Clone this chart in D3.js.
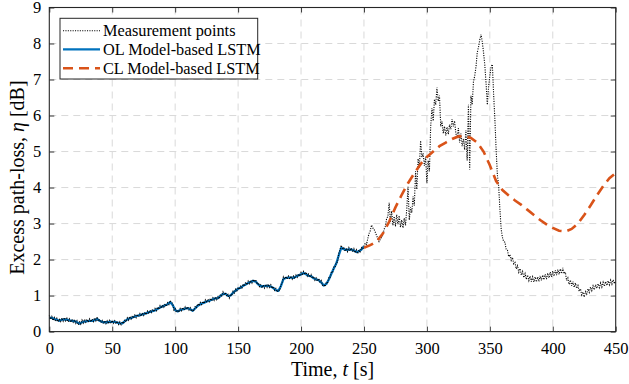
<!DOCTYPE html>
<html>
<head>
<meta charset="utf-8">
<script src="https://cdn.jsdelivr.net/npm/d3@7"></script>
<style>
  html, body { margin: 0; padding: 0; background: #fff; }
  svg { display: block; }
  text { font-family: "Liberation Serif", "DejaVu Serif", serif; fill: #000; }
</style>
</head>
<body>
<svg id="chart" width="629" height="384"></svg>
<script>
// ---- Data ----
// Measurement points, one value per second from t = 0 s to t = 450 s
const measurement = [
  0.45,0.34,0.42,0.31,0.39,0.28,0.37,0.27,0.34,0.28,
  0.38,0.29,0.39,0.30,0.37,0.27,0.35,0.26,0.34,0.26,
  0.33,0.23,0.30,0.19,0.27,0.21,0.32,0.24,0.34,0.26,
  0.34,0.26,0.35,0.27,0.35,0.28,0.38,0.30,0.41,0.29,
  0.34,0.25,0.31,0.22,0.30,0.22,0.30,0.22,0.31,0.23,
  0.31,0.23,0.30,0.22,0.29,0.20,0.27,0.17,0.28,0.22,
  0.33,0.27,0.38,0.32,0.42,0.35,0.44,0.37,0.46,0.39,
  0.48,0.41,0.50,0.43,0.52,0.45,0.54,0.47,0.57,0.50,
  0.59,0.53,0.62,0.55,0.64,0.58,0.68,0.62,0.72,0.65,
  0.74,0.68,0.77,0.70,0.80,0.75,0.86,0.81,0.78,0.60,
  0.64,0.54,0.60,0.54,0.64,0.58,0.67,0.60,0.69,0.62,
  0.69,0.60,0.66,0.56,0.61,0.58,0.71,0.67,0.77,0.72,
  0.81,0.75,0.84,0.78,0.88,0.81,0.90,0.83,0.92,0.85,
  0.94,0.87,0.96,0.89,0.98,0.91,1.03,0.99,1.10,1.01,
  1.09,0.98,1.03,0.93,1.04,1.00,1.12,1.07,1.18,1.13,
  1.23,1.17,1.26,1.21,1.32,1.26,1.37,1.30,1.40,1.33,
  1.42,1.35,1.45,1.38,1.44,1.32,1.36,1.25,1.30,1.21,
  1.29,1.21,1.31,1.23,1.32,1.23,1.30,1.20,1.25,1.15,
  1.20,1.10,1.16,1.14,1.30,1.35,1.52,1.46,1.53,1.46,
  1.54,1.46,1.54,1.46,1.54,1.47,1.57,1.51,1.60,1.54,
  1.64,1.56,1.67,1.59,1.65,1.54,1.60,1.51,1.58,1.48,
  1.53,1.43,1.49,1.40,1.47,1.38,1.42,1.29,1.31,1.25,
  1.35,1.34,1.49,1.48,1.64,1.63,1.79,1.78,1.92,1.93,
  2.18,2.28,2.40,2.28,2.35,2.23,2.31,2.22,2.33,2.24,
  2.32,2.21,2.30,2.19,2.27,2.16,2.27,2.19,2.33,2.29,
  2.37,2.46,2.42,2.58,2.72,2.80,2.96,2.88,2.84,2.76,
  2.67,2.58,2.50,2.56,2.62,2.68,2.84,2.92,3.14,3.20,
  3.58,3.05,3.35,2.95,3.20,2.92,3.25,2.98,3.22,2.90,
  3.10,2.88,3.15,2.95,3.40,4.02,3.10,3.45,3.30,3.75,
  3.50,4.45,3.95,4.80,4.55,5.30,4.85,4.95,4.60,4.85,
  4.12,4.75,4.45,5.70,6.20,5.85,6.45,6.30,6.78,6.40,
  6.55,5.70,5.85,5.50,5.70,5.45,5.68,5.48,5.75,5.62,
  5.90,5.70,5.85,5.50,5.40,5.65,5.25,5.50,5.15,5.35,
  5.05,5.60,4.75,6.30,4.50,6.55,6.30,6.95,7.10,7.35,
  7.75,7.90,8.10,8.25,8.05,7.75,7.40,6.90,6.30,6.80,
  7.10,7.35,7.42,6.60,5.90,5.05,4.35,4.05,3.40,2.85,
  2.62,2.50,2.48,2.28,2.26,2.08,2.14,1.98,2.06,1.88,
  1.92,1.74,1.83,1.65,1.75,1.57,1.67,1.50,1.61,1.45,
  1.57,1.42,1.54,1.39,1.52,1.38,1.52,1.38,1.52,1.39,
  1.55,1.42,1.57,1.44,1.59,1.46,1.62,1.49,1.65,1.52,
  1.68,1.54,1.70,1.57,1.72,1.59,1.74,1.61,1.77,1.61,
  1.65,1.42,1.49,1.31,1.43,1.27,1.39,1.23,1.35,1.20,
  1.28,1.12,1.19,1.02,1.10,0.96,1.11,1.04,1.19,1.09,
  1.24,1.14,1.27,1.16,1.30,1.20,1.33,1.22,1.35,1.24,
  1.37,1.26,1.39,1.28,1.41,1.30,1.43,1.32,1.44,1.33,1.40
];
const measurementStepSec = 1;

// OL Model-based LSTM, one value every 2 s from t = 0 s to t = 250 s
const olModel = [
  0.39,0.38,0.35,0.33,0.30,0.33,0.34,0.33,0.31,0.30,
  0.29,0.26,0.22,0.26,0.28,0.29,0.30,0.30,0.32,0.35,
  0.30,0.27,0.26,0.26,0.27,0.27,0.27,0.25,0.23,0.23,
  0.29,0.34,0.37,0.39,0.42,0.44,0.46,0.48,0.50,0.52,
  0.55,0.57,0.59,0.63,0.67,0.70,0.73,0.76,0.82,0.74,
  0.60,0.56,0.60,0.62,0.64,0.65,0.62,0.58,0.65,0.72,
  0.76,0.79,0.82,0.85,0.87,0.90,0.92,0.93,0.99,1.05,
  1.05,0.99,1.00,1.08,1.14,1.19,1.22,1.27,1.31,1.35,
  1.38,1.41,1.39,1.31,1.26,1.26,1.27,1.27,1.25,1.21,
  1.15,1.13,1.26,1.46,1.49,1.50,1.50,1.49,1.53,1.56,
  1.59,1.63,1.59,1.55,1.54,1.48,1.45,1.43,1.37,1.28,
  1.32,1.44,1.60,1.75,1.89,2.12,2.33,2.29,2.27,2.28,
  2.28,2.25,2.21,2.23,2.28,2.37
];
const olStepSec = 2;

// CL Model-based LSTM, one value every 5 s from t = 250 s to t = 450 s
const clStartSec = 250;
const clModel = [
  2.33,2.40,2.50,2.72,3.05,3.45,3.80,4.12,4.40,4.65,
  4.85,5.00,5.15,5.25,5.35,5.42,5.42,5.38,5.25,5.00,
  4.62,4.18,3.93,3.78,3.64,3.52,3.38,3.24,3.10,2.98,
  2.88,2.80,2.78,2.85,3.00,3.24,3.50,3.78,4.04,4.26,4.40
];
const clStepSec = 5;

const xTicks = [0, 50, 100, 150, 200, 250, 300, 350, 400, 450];
const yTicks = [0, 1, 2, 3, 4, 5, 6, 7, 8, 9];
const legendLabels = ["Measurement points", "OL Model-based LSTM", "CL Model-based LSTM"];
const xLabel = "Time, ";
const yLabel = "Excess path-loss, ";

// ---- Drawing ----
const svg = d3.select("#chart");
const pLeft = 49.3, pRight = 615.7, pTop = 7.5, pBottom = 331.6;
const x = d3.scaleLinear().domain([0, 450]).range([pLeft, pRight]);
const y = d3.scaleLinear().domain([0, 9]).range([pBottom, pTop]);

const colMeas = "#000000", colOL = "#0072BD", colCL = "#D95319";
const axisColor = "#262626";

// grid
const grid = svg.append("g");
grid.selectAll(".gx").data(xTicks.slice(1, -1)).enter().append("line")
  .attr("x1", d => x(d)).attr("x2", d => x(d))
  .attr("y1", pTop).attr("y2", pBottom)
  .attr("stroke", "#d9d9d9").attr("stroke-width", 1)
  .attr("stroke-dasharray", "7,5");
grid.selectAll(".gy").data(yTicks.slice(1, -1)).enter().append("line")
  .attr("y1", d => y(d)).attr("y2", d => y(d))
  .attr("x1", pLeft).attr("x2", pRight)
  .attr("stroke", "#d9d9d9").attr("stroke-width", 1)
  .attr("stroke-dasharray", "7,5");

// series
const line = d3.line().x(d => x(d[0])).y(d => y(d[1]));
const olData = olModel.map((v, i) => [i * olStepSec, v]);
const measData = measurement.map((v, i) => [i * measurementStepSec, v]);
const clData = clModel.map((v, i) => [clStartSec + i * clStepSec, v]);

svg.append("path").datum(olData).attr("d", line)
  .attr("fill", "none").attr("stroke", colOL).attr("stroke-width", 2.3)
  .attr("stroke-linejoin", "round");
svg.append("path").datum(measData).attr("d", line)
  .attr("fill", "none").attr("stroke", colMeas).attr("stroke-width", 1.1)
  .attr("stroke-dasharray", "1.1,1.3");
svg.append("path").datum(clData).attr("d", line)
  .attr("fill", "none").attr("stroke", colCL).attr("stroke-width", 2.6)
  .attr("stroke-dasharray", "10,6");

// axes
function styleAxis(g) {
  g.select(".domain").remove();
  g.selectAll(".tick line").attr("stroke", axisColor).attr("stroke-width", 0.9);
  g.selectAll("text").attr("fill", "#000").style("font-size", "16.5px")
    .style("font-family", '"Liberation Serif", "DejaVu Serif", serif');
}
svg.append("g").attr("transform", `translate(0,${pBottom})`)
  .call(d3.axisBottom(x).tickValues(xTicks).tickSize(-5).tickPadding(11).tickFormat(d3.format("d")))
  .call(styleAxis);
svg.append("g").attr("transform", `translate(0,${pTop})`)
  .call(d3.axisTop(x).tickValues(xTicks).tickSize(-5).tickFormat(""))
  .call(styleAxis);
svg.append("g").attr("transform", `translate(${pLeft},0)`)
  .call(d3.axisLeft(y).tickValues(yTicks).tickSize(-5).tickPadding(8).tickFormat(d3.format("d")))
  .call(styleAxis);
svg.append("g").attr("transform", `translate(${pRight},0)`)
  .call(d3.axisRight(y).tickValues(yTicks).tickSize(-5).tickFormat(""))
  .call(styleAxis);

svg.append("rect").attr("x", pLeft).attr("y", pTop)
  .attr("width", pRight - pLeft).attr("height", pBottom - pTop)
  .attr("fill", "none").attr("stroke", axisColor).attr("stroke-width", 1.1);

// axis labels
const xl = svg.append("text").attr("x", (pLeft + pRight) / 2).attr("y", 376)
  .attr("text-anchor", "middle").style("font-size", "20px");
xl.append("tspan").text(xLabel);
xl.append("tspan").style("font-style", "italic").text("t");
xl.append("tspan").text(" [s]");

const yl = svg.append("text").attr("transform", `translate(24,${(pTop + pBottom) / 2 + 8}) rotate(-90)`)
  .attr("text-anchor", "middle").style("font-size", "20px");
yl.append("tspan").text(yLabel);
yl.append("tspan").style("font-style", "italic").text("η");
yl.append("tspan").text(" [dB]");

// legend
const lg = svg.append("g");
lg.append("rect").attr("x", 60).attr("y", 18.3).attr("width", 197.7).attr("height", 60.7)
  .attr("fill", "#fff").attr("stroke", axisColor).attr("stroke-width", 1);
const rowsY = [30.7, 49.3, 68.3];
const styles = [
  {c: colMeas, w: 1.1, dash: "1.1,1.3"},
  {c: colOL, w: 2.3, dash: null},
  {c: colCL, w: 2.6, dash: "10,6"}
];
legendLabels.forEach((lab, i) => {
  lg.append("line").attr("x1", 63).attr("x2", 100).attr("y1", rowsY[i]).attr("y2", rowsY[i])
    .attr("stroke", styles[i].c).attr("stroke-width", styles[i].w)
    .attr("stroke-dasharray", styles[i].dash);
  lg.append("text").attr("x", 103).attr("y", rowsY[i] + 5.5)
    .style("font-size", "16.3px").text(lab);
});
</script>
</body>
</html>
